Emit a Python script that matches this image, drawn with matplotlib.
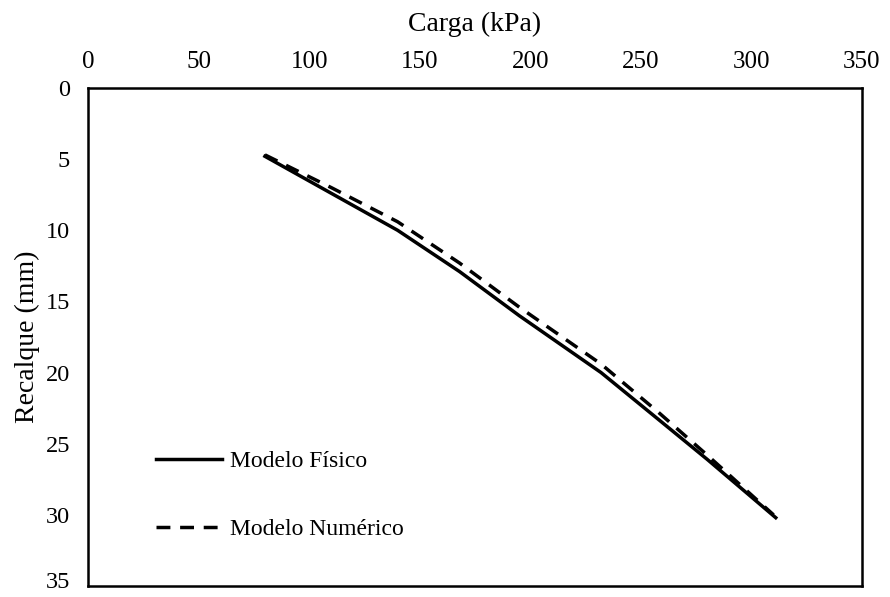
import matplotlib
matplotlib.use("Agg")
import matplotlib.pyplot as plt
import matplotlib.transforms as mtransforms

carga_fisico = [80, 110, 140, 168, 195, 232, 258, 280, 311]
recalque_fisico = [4.8, 7.4, 10.0, 12.9, 16.0, 20.0, 23.3, 26.1, 30.2]
carga_numerico = [80, 110, 140, 168, 195, 232, 258, 280, 310]
recalque_numerico = [4.7, 7.0, 9.4, 12.3, 15.4, 19.4, 22.8, 25.8, 30.0]

xticks = [0, 50, 100, 150, 200, 250, 300, 350]
yticks = [0, 5, 10, 15, 20, 25, 30, 35]

plt.rcParams['font.family'] = ['Liberation Serif', 'DejaVu Serif']

fig = plt.figure(figsize=(8.9, 5.97), dpi=100)
ax = fig.add_axes([88/890, 1 - 586/597, (862-88)/890, (586-88)/597])

ax.plot(carga_fisico, recalque_fisico, color='black', lw=2.5, label='Modelo Físico')
ax.plot(carga_numerico, recalque_numerico, color='black', lw=2.5, ls=(0, (4, 2.8)), label='Modelo Numérico')

ax.set_xlim(0, 350)
ax.set_ylim(35, 0)
ax.set_xticks(xticks)
ax.set_yticks(yticks)
ax.xaxis.tick_top()
ax.xaxis.set_label_position('top')
ax.tick_params(length=0, labelsize=18)
ax.tick_params(axis='x', pad=11)
ax.tick_params(axis='y', pad=13, labelsize=17.5)
for s in ax.spines.values():
    s.set_linewidth(1.8)
ax.set_xlabel('Carga (kPa)', fontsize=20, labelpad=14)
ax.set_ylabel('Recalque (mm)', fontsize=20, labelpad=4)

# keep the bottom tick label inside the canvas
last = ax.get_yticklabels()[-1]
last.set_transform(last.get_transform() + mtransforms.ScaledTranslation(0, 4/72, fig.dpi_scale_trans))

leg = ax.legend(loc='lower left', bbox_to_anchor=(0.06, 0.05), frameon=False,
                fontsize=17, handlelength=2.8, labelspacing=1.95, handletextpad=0.35)

fig.savefig('out.png', dpi=100)
